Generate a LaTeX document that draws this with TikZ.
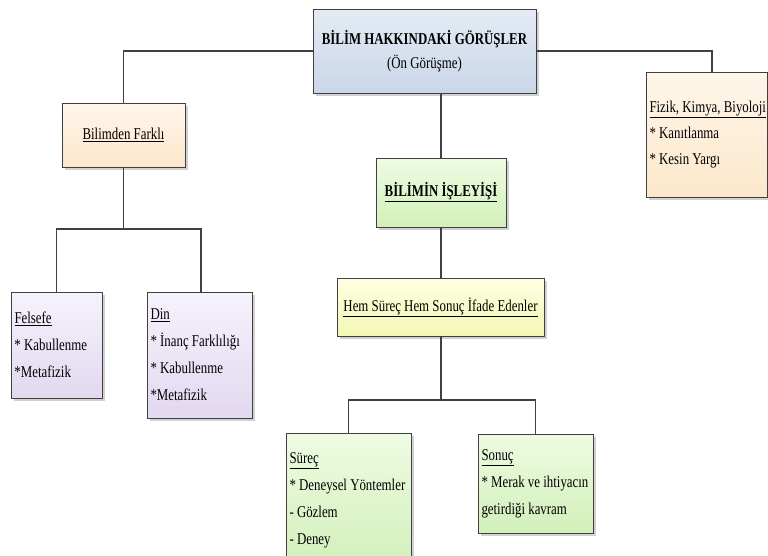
\documentclass[tikz,border=0pt]{standalone}
\usepackage{fontspec}
\setmainfont{Liberation Serif}[FakeStretch=0.78]
\usetikzlibrary{shadows}
\definecolor{edge}{HTML}{404040}
\definecolor{blueT}{HTML}{E4EBF4}\definecolor{blueB}{HTML}{C9D6E8}
\definecolor{peachT}{HTML}{FEF6EA}\definecolor{peachB}{HTML}{FCE7CB}
\definecolor{lilacT}{HTML}{F6F2FC}\definecolor{lilacB}{HTML}{E2D8EF}
\definecolor{greenT}{HTML}{EEFBE2}\definecolor{greenB}{HTML}{D2F0BA}
\definecolor{yelT}{HTML}{FEFEE2}\definecolor{yelB}{HTML}{F3F8B4}
\tikzset{
  card/.style={draw=edge, line width=0.9pt, rectangle, inner ysep=0pt,
    font=\fontsize{16.5}{27}\selectfont,
    drop shadow={shadow xshift=3pt, shadow yshift=-3pt, fill=black!18, opacity=1}},
  ccard/.style={card, align=center, inner xsep=0pt},
  lcard/.style={card, align=flush left, inner xsep=3.5pt},
  link/.style={draw=edge, line width=1.8pt},
}
\begin{document}
\begin{tikzpicture}[x=1pt,y=-1pt]
\useasboundingbox (0,0) rectangle (768,555);

\node[ccard, top color=blueT, bottom color=blueB, minimum width=223pt, minimum height=84pt,
  font=\fontsize{16.5}{24}\selectfont] (top) at (424.5,51)
  {\textbf{BİLİM HAKKINDAKİ GÖRÜŞLER}\\(Ön Görüşme)};

\node[ccard, top color=peachT, bottom color=peachB, minimum width=123pt, minimum height=64pt] (bf) at (123.5,135)
  {\underline{Bilimden Farklı}};

\node[lcard, top color=peachT, bottom color=peachB, text width=114pt, minimum height=125pt,
  font=\fontsize{16.5}{26}\selectfont] (fz) at (706.5,134.5)
  {\underline{Fizik, Kimya, Biyoloji}\\{}* Kanıtlanma\\{}* Kesin Yargı};

\node[ccard, top color=greenT, bottom color=greenB, minimum width=130pt, minimum height=69pt] (isl) at (441,192.5)
  {\textbf{\underline{BİLİMİN İŞLEYİŞİ}}};

\node[ccard, top color=yelT, bottom color=yelB, minimum width=207pt, minimum height=58pt] (hem) at (440.5,307)
  {\underline{Hem Süreç Hem Sonuç İfade Edenler}};

\node[lcard, top color=lilacT, bottom color=lilacB, text width=84pt, minimum height=106pt] (fel) at (56.5,345)
  {\underline{Felsefe}\\{}* Kabullenme\\{}*Metafizik};

\node[lcard, top color=lilacT, bottom color=lilacB, text width=98pt, minimum height=126pt] (din) at (199.5,355)
  {\underline{Din}\\{}* İnanç Farklılığı\\{}* Kabullenme\\{}*Metafizik};

\node[lcard, top color=greenT, bottom color=greenB, text width=118pt, minimum height=134pt] (sur) at (348.5,500)
  {\underline{Süreç}\\{}* Deneysel Yöntemler\\{}- Gözlem\\{}- Deney};

\node[lcard, top color=greenT, bottom color=greenB, text width=108pt, minimum height=99pt] (son) at (535.5,483.5)
  {\underline{Sonuç}\\{}* Merak ve ihtiyacın\\getirdiği kavram};

\coordinate (j1) at (123.5,229);
\coordinate (j2) at (441,400);

\draw[link] (top.west) -| (bf.north);
\draw[link] (top.east) -| ([xshift=5.5pt]fz.north);
\draw[link] (isl.north |- top.south) -- (isl.north);
\draw[link] (isl.south) -- (isl.south |- hem.north);
\draw[link] (bf.south) -- (j1);
\draw[link] (fel.north) |- (j1);
\draw[link] ([xshift=1.5pt]din.north) |- (j1);
\draw[link] (j2 |- hem.south) -- (j2);
\draw[link] (sur.north) |- (j2);
\draw[link] (son.north) |- (j2);
\end{tikzpicture}
\end{document}
